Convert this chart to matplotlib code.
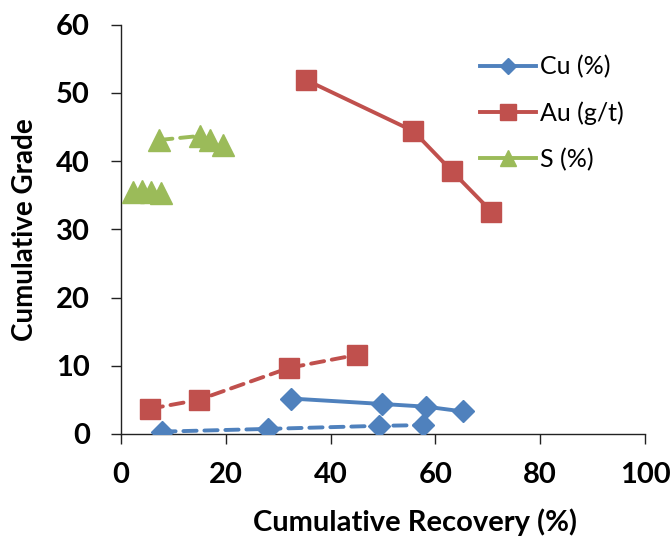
import matplotlib
matplotlib.use("Agg")
import matplotlib.pyplot as plt
from matplotlib.lines import Line2D

plt.rcParams['font.family'] = ['Lato', 'DejaVu Sans']

# Cumulative recovery (%) vs cumulative grade for each element
cu_rec = [32.4, 49.9, 58.3, 65.3]
cu_grade = [5.2, 4.4, 4.0, 3.3]
cu2_rec = [7.9, 28.1, 49.3, 57.7]
cu2_grade = [0.35, 0.75, 1.2, 1.3]

au_rec = [35.3, 55.8, 63.2, 70.7]
au_grade = [51.9, 44.4, 38.5, 32.6]
au2_rec = [5.5, 14.8, 32.1, 45.0]
au2_grade = [3.7, 5.0, 9.7, 11.6]

s_rec = [2.2, 4.1, 5.7, 7.6]
s_grade = [35.5, 35.6, 35.5, 35.3]
s2_rec = [7.3, 15.1, 17.0, 19.4]
s2_grade = [43.1, 43.7, 43.1, 42.4]

labels = ['Cu (%)', 'Au (g/t)', 'S (%)']
x_ticks = [0, 20, 40, 60, 80, 100]
y_ticks = [0, 10, 20, 30, 40, 50, 60]

BLUE = '#4F81BD'
RED = '#C0504D'
GREEN = '#9BBB59'

W, H = 671, 540
fig = plt.figure(figsize=(W / 100, H / 100), dpi=100)
ax = fig.add_axes([121 / W, 1 - 434 / H, (645 - 121) / W, (434 - 24.7) / H])

lw = 2.8
dash = (3.4, 2.0)

ax.plot(cu_rec, cu_grade, color=BLUE, lw=lw, marker='D', ms=11, zorder=3)
ax.plot(au_rec, au_grade, color=RED, lw=lw, marker='s', ms=15, zorder=3)
ax.plot(s_rec, s_grade, color=GREEN, lw=lw, marker='^', ms=16, zorder=3)

ax.plot(cu2_rec, cu2_grade, color=BLUE, lw=lw, marker='D', ms=11,
        ls=(0, dash), dash_capstyle='round', zorder=3)
ax.plot(au2_rec, au2_grade, color=RED, lw=lw, marker='s', ms=15,
        ls=(0, dash), dash_capstyle='round', zorder=3)
ax.plot(s2_rec, s2_grade, color=GREEN, lw=lw, marker='^', ms=16,
        ls=(0, dash), dash_capstyle='round', zorder=3)

ax.set_xlim(0, 100)
ax.set_ylim(0, 60)
ax.set_xticks(x_ticks)
ax.set_yticks(y_ticks)
ax.spines['top'].set_visible(False)
ax.spines['right'].set_visible(False)
for s in ('left', 'bottom'):
    ax.spines[s].set_linewidth(1.0)
    ax.spines[s].set_color('#222222')
ax.tick_params(direction='out', length=7.5, width=1.0, color='#222222',
               labelsize=21, pad=13)
ax.tick_params(axis='y', pad=15)
for t in ax.get_xticklabels() + ax.get_yticklabels():
    t.set_fontweight('bold')

ax.set_xlabel('Cumulative Recovery (%)', fontsize=21, fontweight='bold')
ax.set_ylabel('Cumulative Grade', fontsize=20, fontweight='bold')
ax.xaxis.set_label_coords((415 - 121) / (645 - 121), -(522 - 434) / (434 - 24.7))
ax.yaxis.set_label_coords(-(121 - 25) / (645 - 121), 0.5)
ax.xaxis.label.set_va('center')
ax.yaxis.label.set_va('center')

handles = [
    Line2D([], [], color=BLUE, lw=lw, marker='D', ms=8),
    Line2D([], [], color=RED, lw=lw, marker='s', ms=12),
    Line2D([], [], color=GREEN, lw=lw, marker='^', ms=11),
]
ax.legend(handles, labels, loc='upper left', bbox_to_anchor=(480 / W, 1 - 55 / H),
          bbox_transform=fig.transFigure, frameon=False, fontsize=18,
          handlelength=2.25, handletextpad=0.15, labelspacing=0.92,
          borderaxespad=0, borderpad=0)

fig.savefig('out.png', dpi=100)
